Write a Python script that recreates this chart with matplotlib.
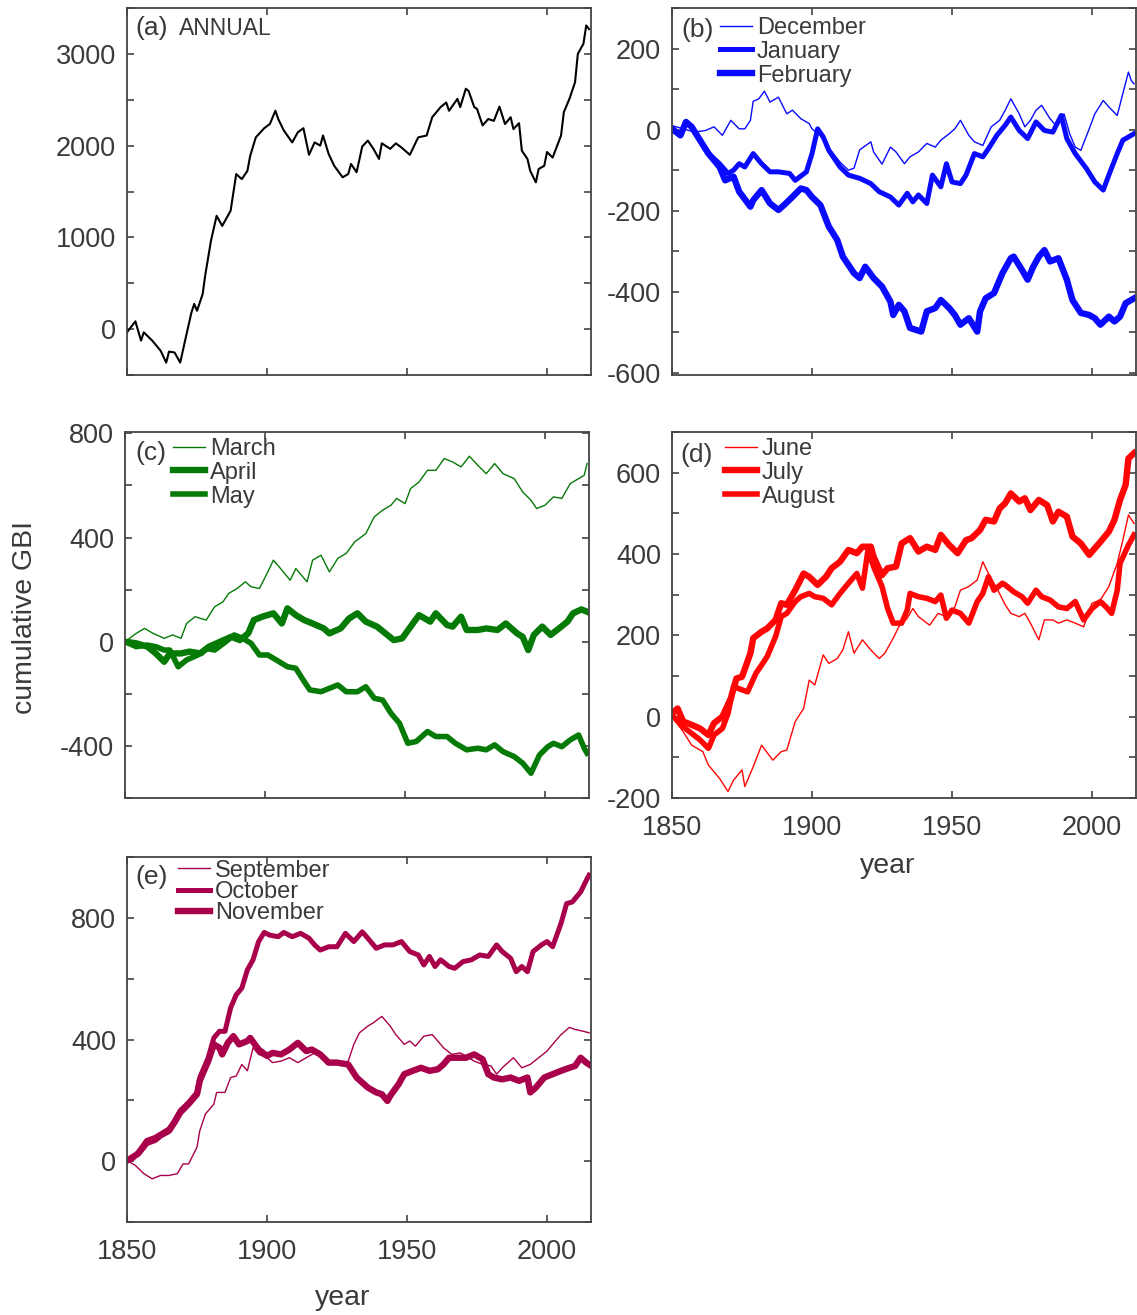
import matplotlib
matplotlib.use("Agg")
import matplotlib.pyplot as plt
from matplotlib.ticker import MultipleLocator

plt.rcParams["font.family"] = ["Liberation Sans", "DejaVu Sans"]
plt.rcParams["axes.unicode_minus"] = False

# ---------------------------------------------------------------- data
# (a) annual cumulative GBI
annual_year = [1850, 1853, 1855, 1856, 1859, 1862, 1864, 1865, 1867, 1869, 1871, 1873, 1874, 1875,
               1877, 1878, 1880, 1882, 1884, 1887, 1889, 1891, 1893, 1894, 1896, 1899, 1901, 1903,
               1904, 1906, 1909, 1911, 1913, 1915, 1917, 1919, 1920, 1922, 1924, 1927, 1929, 1930,
               1932, 1934, 1936, 1938, 1940, 1941, 1944, 1946, 1948, 1951, 1954, 1957, 1959, 1962,
               1964, 1965, 1968, 1969, 1971, 1972, 1974, 1975, 1977, 1979, 1981, 1983, 1985, 1987,
               1988, 1990, 1991, 1993, 1994, 1996, 1997, 1999, 2000, 2002, 2005, 2006, 2008, 2010,
               2011, 2013, 2014, 2015]
annual_gbi = [-35, 85, -125, -35, -125, -235, -365, -245, -255, -365, -90, 180, 275, 200,
              380, 600, 965, 1235, 1125, 1290, 1690, 1635, 1725, 1890, 2090, 2190, 2235, 2380,
              2290, 2165, 2035, 2145, 2190, 1900, 2035, 2000, 2110, 1910, 1780, 1655, 1690, 1800,
              1710, 1990, 2055, 1965, 1855, 2025, 1965, 2025, 1980, 1900, 2090, 2110, 2310, 2420,
              2470, 2380, 2510, 2420, 2620, 2595, 2420, 2400, 2220, 2290, 2270, 2425, 2235, 2310,
              2180, 2245, 1945, 1855, 1725, 1600, 1745, 1780, 1930, 1870, 2110, 2365, 2510, 2690,
              3000, 3110, 3310, 3270]

# (b) winter months
dec_year = [1850, 1854, 1858, 1862, 1865, 1868, 1871, 1874, 1876, 1878, 1879, 1881, 1883, 1885,
            1888, 1891, 1893, 1896, 1899, 1900, 1903, 1906, 1910, 1913, 1915, 1917, 1921, 1922,
            1925, 1928, 1930, 1933, 1935, 1938, 1941, 1944, 1946, 1949, 1951, 1953, 1956, 1958,
            1961, 1964, 1967, 1969, 1971, 1974, 1976, 1978, 1980, 1982, 1985, 1987, 1990, 1992,
            1994, 1996, 1999, 2001, 2004, 2006, 2009, 2011, 2013, 2014, 2015]
dec_gbi = [10, 2, -6, -2, 7, -14, 23, 2, 2, 23, 70, 76, 95, 68,
           80, 39, 48, 27, 15, 2, -15, -45, -80, -100, -95, -50, -30, -55,
           -85, -43, -55, -84, -67, -55, -34, -43, -26, -10, 2, 23, -14, -30,
           -39, 7, 23, 48, 76, 39, 7, 23, 48, 60, 27, 11, 39, -10,
           -43, -51, 2, 39, 72, 56, 35, 89, 142, 121, 113]

jan_year = [1850, 1853, 1855, 1857, 1860, 1863, 1867, 1870, 1872, 1874, 1876, 1879, 1882, 1885,
            1888, 1892, 1894, 1898, 1900, 1902, 1904, 1906, 1910, 1913, 1917, 1921, 1924, 1928,
            1931, 1934, 1936, 1938, 1941, 1943, 1946, 1948, 1950, 1953, 1955, 1958, 1961, 1963,
            1966, 1969, 1971, 1974, 1977, 1980, 1983, 1986, 1989, 1991, 1994, 1998, 2001, 2004,
            2006, 2009, 2011, 2013, 2015]
jan_gbi = [2, -14, 19, 7, -26, -59, -84, -108, -100, -84, -92, -59, -84, -104,
           -104, -108, -125, -104, -59, 2, -18, -51, -92, -112, -120, -133, -153, -166,
           -186, -157, -178, -161, -182, -112, -141, -84, -129, -133, -112, -59, -67, -47,
           -14, 11, 31, -2, -22, 19, -2, -6, 35, -22, -59, -96, -129, -149,
           -112, -59, -26, -18, -10]

feb_year = [1850, 1853, 1855, 1857, 1860, 1863, 1867, 1869, 1872, 1874, 1878, 1879, 1882, 1885,
            1888, 1890, 1893, 1896, 1898, 1900, 1903, 1906, 1909, 1911, 1915, 1917, 1919, 1922,
            1925, 1928, 1929, 1931, 1933, 1935, 1939, 1941, 1944, 1946, 1949, 1951, 1953, 1956,
            1959, 1960, 1962, 1965, 1968, 1971, 1972, 1975, 1977, 1979, 1981, 1983, 1985, 1988,
            1991, 1993, 1996, 1999, 2001, 2003, 2006, 2008, 2010, 2012, 2015]
feb_gbi = [2, -14, 19, 7, -26, -59, -92, -125, -116, -153, -190, -174, -149, -182,
           -198, -186, -166, -145, -149, -166, -186, -239, -272, -313, -354, -366, -338, -366,
           -387, -424, -457, -432, -448, -489, -498, -448, -440, -420, -440, -457, -481, -465,
           -498, -448, -416, -403, -354, -317, -313, -346, -370, -338, -313, -297, -325, -317,
           -370, -420, -452, -457, -465, -481, -461, -473, -461, -428, -416]

# (c) spring months
mar_year = [1850, 1854, 1857, 1860, 1864, 1867, 1870, 1872, 1875, 1879, 1882, 1885, 1887, 1890,
            1893, 1895, 1898, 1901, 1903, 1905, 1909, 1911, 1915, 1917, 1920, 1923, 1926, 1929,
            1932, 1936, 1939, 1942, 1945, 1947, 1950, 1952, 1955, 1958, 1961, 1964, 1967, 1970,
            1973, 1976, 1979, 1982, 1985, 1989, 1992, 1995, 1997, 2000, 2003, 2006, 2009, 2012,
            2014, 2015]
mar_gbi = [0, 32, 51, 32, 13, 26, 13, 70, 96, 83, 134, 153, 185, 204,
           230, 211, 204, 268, 313, 288, 236, 281, 230, 313, 332, 268, 320, 339,
           383, 415, 479, 505, 524, 550, 530, 588, 613, 658, 658, 703, 690, 671,
           712, 677, 645, 684, 645, 626, 575, 543, 511, 524, 556, 550, 607, 626,
           639, 684]

apr_year = [1850, 1854, 1858, 1861, 1864, 1866, 1870, 1873, 1877, 1880, 1884, 1888, 1891, 1894,
            1896, 1899, 1903, 1906, 1908, 1911, 1914, 1917, 1921, 1923, 1927, 1930, 1933, 1936,
            1940, 1943, 1946, 1949, 1952, 1955, 1959, 1961, 1965, 1967, 1970, 1972, 1976, 1979,
            1983, 1986, 1990, 1992, 1994, 1996, 1999, 2002, 2005, 2008, 2010, 2013, 2015]
apr_gbi = [0, -6, -19, -45, -77, -45, -45, -38, -45, -19, 0, 19, 6, 32,
           83, 96, 109, 70, 128, 102, 83, 70, 51, 32, 51, 89, 109, 77,
           58, 32, 6, 13, 58, 102, 77, 109, 64, 58, 96, 45, 45, 51,
           45, 70, 32, 19, -32, 26, 58, 26, 51, 77, 109, 124, 115]

may_year = [1850, 1854, 1858, 1861, 1864, 1866, 1869, 1872, 1876, 1879, 1882, 1886, 1889, 1892,
            1895, 1898, 1901, 1904, 1908, 1911, 1914, 1916, 1920, 1923, 1926, 1929, 1933, 1936,
            1939, 1942, 1945, 1948, 1951, 1954, 1958, 1961, 1965, 1968, 1972, 1976, 1979, 1982,
            1985, 1989, 1992, 1994, 1995, 1998, 2001, 2003, 2006, 2009, 2012, 2014, 2015]
may_gbi = [0, -19, -13, -19, -32, -32, -96, -70, -51, -26, -32, 0, 26, 13,
           -6, -51, -51, -70, -96, -102, -153, -185, -192, -179, -166, -192, -192, -173,
           -217, -224, -275, -313, -390, -383, -345, -364, -364, -390, -415, -409, -415, -396,
           -422, -441, -466, -492, -505, -435, -403, -390, -403, -377, -358, -409, -428]

# (d) summer months
jun_year = [1850, 1854, 1857, 1861, 1863, 1867, 1870, 1872, 1875, 1876, 1879, 1882, 1886, 1889,
            1891, 1894, 1897, 1899, 1901, 1904, 1906, 1909, 1911, 1913, 1915, 1918, 1921, 1924,
            1926, 1929, 1931, 1934, 1936, 1938, 1942, 1945, 1948, 1951, 1953, 1956, 1959, 1961,
            1963, 1966, 1969, 1971, 1974, 1976, 1978, 1981, 1983, 1986, 1988, 1991, 1994, 1997,
            2000, 2003, 2006, 2009, 2011, 2013, 2015]
jun_gbi = [0, -37, -70, -86, -119, -152, -184, -156, -131, -172, -123, -70, -107, -86,
           -82, -12, 20, 90, 78, 152, 131, 143, 164, 209, 156, 189, 164, 143,
           156, 193, 221, 242, 266, 246, 225, 254, 246, 270, 311, 320, 336, 381,
           352, 316, 275, 254, 246, 254, 230, 189, 238, 238, 230, 238, 230, 221,
           279, 287, 320, 377, 434, 496, 475]

jul_year = [1850, 1852, 1854, 1857, 1860, 1863, 1865, 1868, 1871, 1873, 1875, 1878, 1879, 1882,
            1884, 1887, 1889, 1891, 1894, 1897, 1899, 1902, 1905, 1907, 1910, 1913, 1916, 1918,
            1921, 1922, 1925, 1927, 1930, 1932, 1935, 1938, 1941, 1944, 1946, 1949, 1952, 1955,
            1957, 1960, 1962, 1965, 1967, 1969, 1971, 1974, 1976, 1978, 1981, 1984, 1986, 1988,
            1991, 1993, 1996, 1999, 2001, 2003, 2006, 2008, 2010, 2012, 2013, 2015]
jul_gbi = [8, 20, -12, -20, -29, -45, -16, 0, 45, 94, 98, 156, 193, 209,
           217, 238, 279, 275, 311, 352, 344, 324, 344, 365, 381, 410, 402, 418,
           418, 393, 348, 365, 369, 426, 439, 406, 418, 410, 447, 422, 402, 434,
           439, 459, 484, 480, 512, 525, 549, 529, 537, 508, 533, 520, 480, 504,
           492, 443, 426, 398, 414, 430, 455, 484, 533, 570, 635, 648]

aug_year = [1850, 1854, 1857, 1860, 1863, 1865, 1868, 1870, 1872, 1875, 1877, 1880, 1882, 1884,
            1887, 1889, 1891, 1894, 1896, 1899, 1901, 1904, 1907, 1910, 1913, 1916, 1918, 1920,
            1922, 1925, 1927, 1929, 1932, 1934, 1935, 1938, 1941, 1944, 1946, 1948, 1950, 1953,
            1956, 1959, 1961, 1963, 1965, 1968, 1969, 1972, 1975, 1977, 1980, 1982, 1985, 1988,
            1991, 1994, 1997, 2000, 2003, 2005, 2007, 2009, 2010, 2013, 2015]
aug_gbi = [4, -25, -41, -57, -78, -45, -29, 8, 74, 66, 61, 107, 127, 148,
           197, 246, 254, 283, 295, 303, 295, 291, 275, 303, 328, 352, 316, 410,
           369, 320, 266, 230, 230, 262, 303, 295, 291, 283, 299, 242, 262, 254,
           230, 283, 303, 344, 311, 328, 324, 307, 295, 279, 311, 295, 287, 270,
           266, 283, 238, 266, 283, 270, 254, 311, 377, 422, 447]

# (e) autumn months
sep_year = [1850, 1853, 1856, 1859, 1862, 1865, 1868, 1870, 1872, 1875, 1876, 1878, 1881, 1882,
            1885, 1887, 1889, 1891, 1893, 1895, 1897, 1900, 1902, 1905, 1908, 1911, 1914, 1917,
            1920, 1923, 1926, 1929, 1931, 1933, 1936, 1938, 1941, 1944, 1946, 1949, 1951, 1953,
            1956, 1959, 1961, 1963, 1966, 1969, 1971, 1974, 1977, 1980, 1982, 1984, 1988, 1991,
            1994, 1997, 2000, 2003, 2005, 2008, 2010, 2013, 2015]
sep_gbi = [2, -14, -41, -58, -47, -47, -41, -9, -9, 46, 100, 155, 187, 226,
           226, 275, 280, 318, 297, 373, 351, 340, 324, 329, 340, 324, 340, 356,
           346, 324, 318, 329, 384, 422, 444, 455, 476, 444, 416, 384, 395, 378,
           411, 416, 395, 373, 351, 356, 346, 329, 318, 313, 286, 307, 340, 307,
           318, 340, 362, 395, 416, 440, 433, 427, 422]

oct_year = [1850, 1852, 1854, 1857, 1860, 1862, 1865, 1867, 1869, 1872, 1875, 1876, 1879, 1881,
            1883, 1885, 1887, 1889, 1891, 1893, 1895, 1897, 1899, 1901, 1904, 1906, 1909, 1912,
            1915, 1917, 1919, 1922, 1925, 1928, 1931, 1934, 1936, 1939, 1942, 1945, 1948, 1951,
            1954, 1956, 1958, 1960, 1962, 1965, 1967, 1970, 1973, 1976, 1979, 1982, 1984, 1987,
            1989, 1991, 1993, 1995, 1998, 2000, 2002, 2005, 2007, 2009, 2012, 2014, 2015]
oct_gbi = [2, 8, 29, 68, 78, 89, 106, 133, 166, 193, 226, 275, 340, 405,
           427, 427, 504, 547, 569, 629, 662, 722, 752, 743, 738, 752, 738, 749,
           733, 711, 694, 705, 705, 749, 722, 754, 733, 700, 711, 711, 722, 689,
           678, 645, 673, 640, 662, 640, 634, 656, 662, 678, 673, 711, 689, 667,
           623, 640, 623, 689, 711, 722, 705, 782, 847, 852, 885, 923, 940]

nov_year = [1850, 1852, 1854, 1857, 1860, 1862, 1865, 1867, 1869, 1872, 1875, 1876, 1879, 1881,
            1883, 1884, 1886, 1888, 1890, 1893, 1894, 1897, 1900, 1902, 1905, 1908, 1911, 1914,
            1916, 1919, 1922, 1925, 1929, 1932, 1936, 1939, 1941, 1943, 1944, 1947, 1949, 1952,
            1955, 1958, 1961, 1963, 1965, 1968, 1971, 1974, 1977, 1979, 1981, 1984, 1987, 1990,
            1993, 1994, 1996, 1999, 2002, 2005, 2008, 2010, 2012, 2014, 2015]
nov_gbi = [2, 13, 25, 60, 70, 85, 100, 128, 160, 188, 220, 265, 329, 384,
           373, 351, 389, 411, 384, 395, 405, 367, 346, 356, 351, 367, 389, 362,
           367, 351, 324, 324, 318, 275, 242, 226, 220, 198, 215, 253, 286, 297,
           307, 297, 302, 318, 340, 340, 340, 351, 335, 286, 275, 269, 275, 264,
           275, 226, 242, 275, 286, 297, 307, 313, 340, 324, 318]

# ---------------------------------------------------------------- layout
W, H = 1137, 1315
TEXT = "#3a3a3a"
THIN, MID, THICK = 1.0, 3.6, 4.6

fig = plt.figure(figsize=(W / 100, H / 100), dpi=100)


def box(left, top, right, bottom):
    return [left / W, 1 - bottom / H, (right - left) / W, (bottom - top) / H]


ax_a = fig.add_axes(box(127, 8, 591, 375))
ax_b = fig.add_axes(box(672, 8, 1136, 375))
ax_c = fig.add_axes(box(125, 432, 589, 798))
ax_d = fig.add_axes(box(672, 432, 1136, 798))
ax_e = fig.add_axes(box(127, 857, 591, 1222))


def style(ax, ylim, major, xlabels=False):
    ax.set_xlim(1850, 2015.7)
    ax.set_ylim(*ylim)
    ax.xaxis.set_major_locator(MultipleLocator(50))
    ax.yaxis.set_major_locator(MultipleLocator(major))
    ax.yaxis.set_minor_locator(MultipleLocator(major / 2))
    ax.tick_params(which="both", direction="in", length=5, width=1.1, top=True, right=True,
                   color="#333333", labelcolor=TEXT, labelsize=19.5)
    ax.tick_params(axis="y", pad=8)
    ax.tick_params(axis="x", pad=12, labelbottom=xlabels)
    for sp in ax.spines.values():
        sp.set_linewidth(1.3)
        sp.set_color("#444444")


def panel_tag(ax, tag, x, y):
    ax.text(x, y, tag, transform=ax.transAxes, ha="left", va="baseline",
            fontsize=19, color=TEXT)


def month_legend(ax, x, y, spacing=0.08):
    leg = ax.legend(loc="upper left", bbox_to_anchor=(x, y), frameon=False, fontsize=17,
                    handlelength=1.36, handletextpad=0.2, labelspacing=spacing,
                    borderpad=0, borderaxespad=0)
    for t in leg.get_texts():
        t.set_color(TEXT)


# (a) annual
ax_a.plot(annual_year, annual_gbi, color="black", lw=1.5)
style(ax_a, (-500, 3500), 1000)
panel_tag(ax_a, "(a)", 0.018, 0.927)
ax_a.text(0.113, 0.927, "ANNUAL", transform=ax_a.transAxes, ha="left", va="baseline",
          fontsize=16.5, color=TEXT)

# (b) December - February
blue = "#0a0aff"
ax_b.plot(dec_year, dec_gbi, color=blue, lw=THIN, label="December")
ax_b.plot(jan_year, jan_gbi, color=blue, lw=MID, label="January")
ax_b.plot(feb_year, feb_gbi, color=blue, lw=THICK, label="February")
style(ax_b, (-605, 300), 200)
panel_tag(ax_b, "(b)", 0.021, 0.921)
month_legend(ax_b, 0.103, 0.976)

# (c) March - May
green = "#067a06"
ax_c.plot(mar_year, mar_gbi, color=green, lw=THIN, label="March")
ax_c.plot(apr_year, apr_gbi, color=green, lw=THICK, label="April")
ax_c.plot(may_year, may_gbi, color=green, lw=MID + 0.4, label="May")
style(ax_c, (-600, 805), 400)
panel_tag(ax_c, "(c)", 0.0216, 0.924)
month_legend(ax_c, 0.103, 0.984)

# (d) June - August
red = "#ff0505"
ax_d.plot(jun_year, jun_gbi, color=red, lw=THIN, label="June")
ax_d.plot(jul_year, jul_gbi, color=red, lw=THICK, label="July")
ax_d.plot(aug_year, aug_gbi, color=red, lw=MID + 0.4, label="August")
style(ax_d, (-200, 700), 200, xlabels=True)
panel_tag(ax_d, "(d)", 0.017, 0.919)
month_legend(ax_d, 0.114, 0.984)

# (e) September - November
maroon = "#a8004a"
ax_e.plot(sep_year, sep_gbi, color=maroon, lw=THIN, label="September")
ax_e.plot(oct_year, oct_gbi, color=maroon, lw=MID, label="October")
ax_e.plot(nov_year, nov_gbi, color=maroon, lw=THICK, label="November")
style(ax_e, (-200, 1000), 400, xlabels=True)
panel_tag(ax_e, "(e)", 0.019, 0.926)
month_legend(ax_e, 0.110, 0.993, spacing=-0.03)

# shared axis titles
fig.text(25 / W, 1 - 618 / H, "cumulative GBI", rotation=90, ha="center", va="center",
         fontsize=20.5, color=TEXT)
fig.text(888 / W, 1 - 873 / H, "year", ha="center", va="baseline", fontsize=20.5, color=TEXT)
fig.text(343 / W, 1 - 1305 / H, "year", ha="center", va="baseline", fontsize=20.5, color=TEXT)

fig.savefig("out.png", dpi=100)
